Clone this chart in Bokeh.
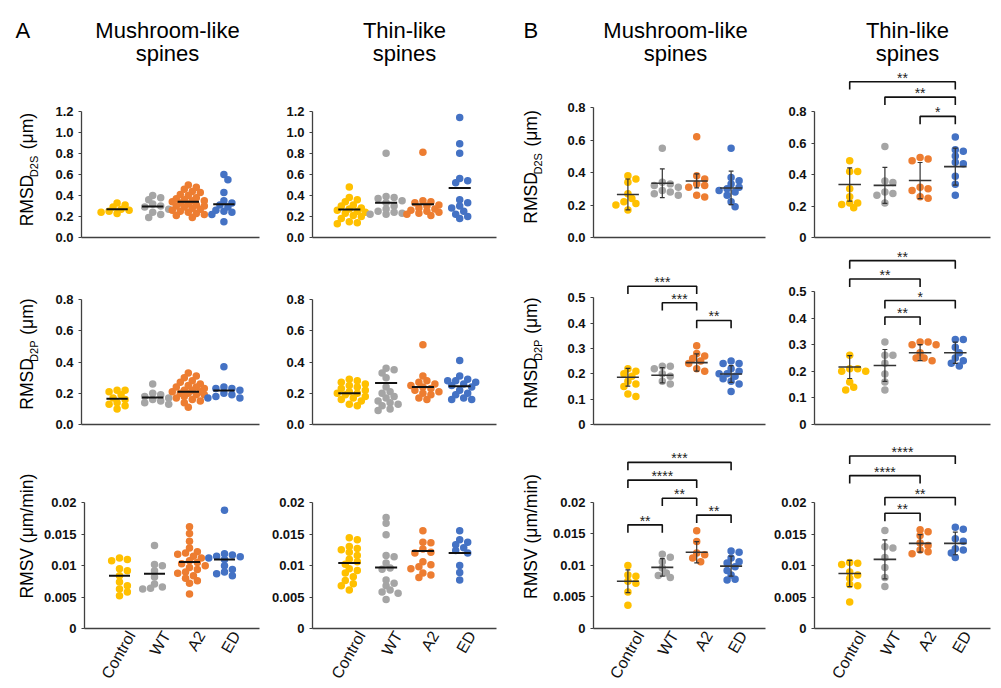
import math
from bokeh.plotting import figure
from bokeh.layouts import row, column
from bokeh.models import Range1d, FixedTicker, ColumnDataSource
from bokeh.embed import file_html
from bokeh.resources import INLINE
from bokeh.core.properties import value

# ---------------- data ----------------
GROUPS = ["Control", "WT", "A2", "ED"]
COLORS = ["#FFC000", "#A5A5A5", "#ED7D31", "#4472C4"]
COL_TITLES = [("Mushroom-like", "spines"), ("Thin-like", "spines"),
              ("Mushroom-like", "spines"), ("Thin-like", "spines")]
PANEL_LETTERS = ["A", "B"]

# Row 1: RMSD D2S (um)
a_mush_d2s = [
    [0.33, 0.31, 0.29, 0.27, 0.26, 0.25, 0.24, 0.23],
    [0.40, 0.38, 0.36, 0.32, 0.30, 0.29, 0.27, 0.24, 0.22, 0.19],
    [0.50, 0.48, 0.46, 0.44, 0.43, 0.41, 0.40, 0.38, 0.37, 0.36, 0.35, 0.35, 0.34, 0.33,
     0.32, 0.31, 0.30, 0.30, 0.29, 0.28, 0.27, 0.26, 0.25, 0.24, 0.23, 0.22, 0.21, 0.19],
    [0.60, 0.55, 0.43, 0.35, 0.33, 0.31, 0.29, 0.26, 0.25, 0.24, 0.22, 0.15],
]
a_mush_d2s_mean = [0.27, 0.295, 0.342, 0.318]

a_thin_d2s = [
    [0.48, 0.38, 0.36, 0.34, 0.31, 0.30, 0.28, 0.27, 0.26, 0.25, 0.24, 0.23, 0.21, 0.20, 0.18, 0.15, 0.14, 0.13],
    [0.80, 0.39, 0.38, 0.37, 0.35, 0.33, 0.30, 0.27, 0.25, 0.24, 0.23, 0.22, 0.22],
    [0.81, 0.35, 0.34, 0.33, 0.31, 0.30, 0.28, 0.27, 0.26, 0.25, 0.24, 0.23, 0.22, 0.21],
    [1.14, 0.89, 0.80, 0.56, 0.54, 0.52, 0.36, 0.33, 0.30, 0.28, 0.25, 0.22, 0.20, 0.18],
]
a_thin_d2s_mean = [0.265, 0.33, 0.315, 0.47]

b_mush_d2s = [
    [0.38, 0.36, 0.34, 0.27, 0.24, 0.22, 0.21, 0.20, 0.17],
    [0.55, 0.34, 0.33, 0.32, 0.31, 0.29, 0.28, 0.27, 0.26],
    [0.62, 0.38, 0.36, 0.33, 0.32, 0.31, 0.26, 0.25],
    [0.55, 0.37, 0.35, 0.33, 0.31, 0.30, 0.29, 0.28, 0.26, 0.22, 0.19],
]
b_mush_d2s_mean = [0.265, 0.334, 0.348, 0.305]
b_mush_d2s_sd = [0.095, 0.088, 0.043, 0.103]

b_thin_d2s = [
    [0.49, 0.42, 0.42, 0.31, 0.26, 0.22, 0.22, 0.21, 0.19],
    [0.58, 0.36, 0.35, 0.29, 0.28, 0.27, 0.22],
    [0.51, 0.50, 0.49, 0.32, 0.31, 0.30, 0.26, 0.25],
    [0.64, 0.56, 0.55, 0.52, 0.48, 0.47, 0.39, 0.34, 0.27],
]
b_thin_d2s_mean = [0.338, 0.332, 0.363, 0.452]
b_thin_d2s_sd = [0.106, 0.115, 0.115, 0.118]
b_thin_d2s_sig = [(2, 3, "*"), (1, 3, "**"), (0, 3, "**")]

# Row 2: RMSD D2P (um)
a_mush_d2p = [
    [0.22, 0.22, 0.21, 0.19, 0.17, 0.16, 0.14, 0.13, 0.12, 0.10],
    [0.26, 0.20, 0.19, 0.18, 0.17, 0.16, 0.15, 0.14, 0.13],
    [0.33, 0.31, 0.30, 0.28, 0.27, 0.26, 0.25, 0.24, 0.24, 0.23, 0.22, 0.22, 0.21, 0.21,
     0.20, 0.20, 0.19, 0.19, 0.18, 0.17, 0.16, 0.15, 0.14, 0.11],
    [0.37, 0.24, 0.23, 0.23, 0.22, 0.20, 0.19, 0.18, 0.17, 0.17],
]
a_mush_d2p_mean = [0.165, 0.173, 0.21, 0.218]

a_thin_d2p = [
    [0.29, 0.28, 0.27, 0.26, 0.25, 0.24, 0.23, 0.22, 0.21, 0.20, 0.20, 0.19, 0.18, 0.17, 0.16, 0.15, 0.13, 0.12],
    [0.36, 0.35, 0.33, 0.30, 0.24, 0.21, 0.20, 0.18, 0.17, 0.15, 0.14, 0.13, 0.12, 0.10, 0.09],
    [0.51, 0.31, 0.28, 0.27, 0.26, 0.25, 0.24, 0.23, 0.22, 0.21, 0.20, 0.19, 0.17, 0.16],
    [0.41, 0.31, 0.29, 0.28, 0.28, 0.27, 0.26, 0.25, 0.24, 0.22, 0.20, 0.19, 0.17, 0.16, 0.16],
]
a_thin_d2p_mean = [0.20, 0.265, 0.24, 0.245]

b_mush_d2p = [
    [0.22, 0.21, 0.20, 0.19, 0.17, 0.16, 0.15, 0.12, 0.11],
    [0.23, 0.23, 0.22, 0.20, 0.19, 0.17, 0.16],
    [0.31, 0.28, 0.27, 0.26, 0.25, 0.24, 0.22, 0.21],
    [0.25, 0.24, 0.24, 0.22, 0.21, 0.20, 0.20, 0.19, 0.18, 0.17, 0.16, 0.13],
]
b_mush_d2p_mean = [0.186, 0.194, 0.244, 0.199]
b_mush_d2p_sd = [0.035, 0.030, 0.034, 0.033]
b_mush_d2p_sig = [(2, 3, "**"), (1, 2, "***"), (0, 2, "***")]

b_thin_d2p = [
    [0.26, 0.21, 0.21, 0.20, 0.20, 0.16, 0.14, 0.13],
    [0.31, 0.26, 0.26, 0.23, 0.19, 0.16, 0.13],
    [0.31, 0.31, 0.30, 0.30, 0.27, 0.25, 0.25, 0.24],
    [0.32, 0.32, 0.29, 0.27, 0.25, 0.24, 0.23, 0.22],
]
b_thin_d2p_mean = [0.216, 0.222, 0.27, 0.27]
b_thin_d2p_sd = [0.043, 0.060, 0.030, 0.040]
b_thin_d2p_sig = [(1, 2, "**"), (1, 3, "*"), (0, 2, "**"), (0, 3, "**")]

# Row 3: RMSV (um/min)
a_mush_rmsv = [
    [0.0112, 0.0110, 0.0108, 0.0095, 0.0092, 0.0084, 0.0074, 0.0068, 0.0063, 0.0058, 0.0052],
    [0.0132, 0.0102, 0.0100, 0.0092, 0.0082, 0.0071, 0.0066, 0.0064, 0.0063],
    [0.0162, 0.0151, 0.0139, 0.0128, 0.0122, 0.0120, 0.0118, 0.0115, 0.0112, 0.0108, 0.0105,
     0.0103, 0.0100, 0.0097, 0.0094, 0.0090, 0.0088, 0.0084, 0.0080, 0.0076, 0.0072, 0.0055],
    [0.0188, 0.0119, 0.0117, 0.0115, 0.0114, 0.0112, 0.0110, 0.0100, 0.0094, 0.0090, 0.0087, 0.0084],
]
a_mush_rmsv_mean = [0.0084, 0.0087, 0.0106, 0.0110]

a_thin_rmsv = [
    [0.0144, 0.0141, 0.0130, 0.0127, 0.0125, 0.0121, 0.0116, 0.0110, 0.0106, 0.0102, 0.0095,
     0.0092, 0.0088, 0.0082, 0.0076, 0.0071, 0.0068, 0.0061],
    [0.0176, 0.0167, 0.0149, 0.0116, 0.0114, 0.0104, 0.0096, 0.0094, 0.0077, 0.0072, 0.0068,
     0.0061, 0.0058, 0.0056, 0.0046],
    [0.0155, 0.0137, 0.0136, 0.0126, 0.0121, 0.0120, 0.0106, 0.0101, 0.0098, 0.0095, 0.0088, 0.0085, 0.0081],
    [0.0155, 0.0141, 0.0137, 0.0133, 0.0128, 0.0124, 0.0120, 0.0100, 0.0089, 0.0077],
]
a_thin_rmsv_mean = [0.0104, 0.0097, 0.0123, 0.0120]

b_mush_rmsv = [
    [0.0100, 0.0085, 0.0083, 0.0075, 0.0072, 0.0058, 0.0037],
    [0.0118, 0.0113, 0.0106, 0.0096, 0.0088, 0.0084, 0.0081],
    [0.0155, 0.0138, 0.0120, 0.0117, 0.0112, 0.0106],
    [0.0123, 0.0121, 0.0112, 0.0106, 0.0104, 0.0098, 0.0092, 0.0085, 0.0078, 0.0077],
]
b_mush_rmsv_mean = [0.0075, 0.0097, 0.0121, 0.0099]
b_mush_rmsv_sd = [0.0018, 0.0014, 0.0017, 0.0016]
b_mush_rmsv_sig = [(0, 1, "**"), (2, 3, "**"), (1, 2, "**"), (0, 2, "****"), (0, 3, "***")]

b_thin_rmsv = [
    [0.0105, 0.0104, 0.0102, 0.0090, 0.0085, 0.0080, 0.0070, 0.0068, 0.0042],
    [0.0156, 0.0130, 0.0128, 0.0113, 0.0097, 0.0081, 0.0067],
    [0.0157, 0.0154, 0.0148, 0.0136, 0.0132, 0.0125, 0.0122, 0.0119],
    [0.0161, 0.0158, 0.0143, 0.0139, 0.0127, 0.0125, 0.0120, 0.0113],
]
b_thin_rmsv_mean = [0.00875, 0.0110, 0.01354, 0.01354]
b_thin_rmsv_sd = [0.0021, 0.0031, 0.0014, 0.0018]
b_thin_rmsv_sig = [(1, 2, "**"), (1, 3, "**"), (0, 2, "****"), (0, 3, "****")]

# tick labels
ticks_a_d2s = ["0.0", "0.2", "0.4", "0.6", "0.8", "1.0", "1.2"]
ticks_a_d2p = ["0.0", "0.2", "0.4", "0.6", "0.8"]
ticks_b_mush_d2s = ["0.0", "0.2", "0.4", "0.6", "0.8"]
ticks_b_thin_d2s = ["0", "0.2", "0.4", "0.6", "0.8"]
ticks_b_d2p = ["0", "0.1", "0.2", "0.3", "0.4", "0.5"]
ticks_rmsv = ["0", "0.005", "0.01", "0.015", "0.02"]

# y axis titles (text, subscript, unit); unit is None when the title is one piece
YLABELS = [("RMSD", "D2S", "(\u03bcm)"), ("RMSD", "D2P", "(\u03bcm)"), ("RMSV (\u03bcm/min)", "", None)]

# ---------------- layout (pixels on page) ----------------
HEADER_H = 69
COLS = [(40, 264, 81, 259), (264, 510, 312, 496), (548, 767, 593, 765), (767, 1000, 814, 990)]
LABEL_STRIPS = {0: (0, 40, 33), 2: (510, 548, 537)}   # x0, x1, baseline x of the y title
ROWS = [(69, 245), (245, 438), (438, 688)]
ZERO_PX = [[238, 238, 237, 239], [427, 427, 427, 424], [630, 628, 631, 630]]
TOP_PX = [[111.5, 111, 107, 112], [300, 300, 298, 291], [503, 502, 503, 503]]
TITLE_CX = [167, 404, 675, 907]
TITLE_BASE = [38, 61]
LETTER_X = [15, 523]
XLABEL_SHIFT_PX = 12     # rotated category labels end a little right of the category
BASELINE_FIX = 0.35      # em shift so that text sits on its alphabetic baseline
YTITLE_GAP = 3           # extra px between the pieces of a y title
BRACKET_Y = {
    "b_thin_d2s": [0.772, 0.895, 0.993],
    "b_mush_d2p": [0.41, 0.48, 0.545],
    "b_thin_d2p": [0.404, 0.466, 0.547, 0.616],
    "b_mush_rmsv": [0.01645, 0.0180, 0.02068, 0.02355, 0.02637],
    "b_thin_rmsv": [0.01834, 0.02084, 0.02433, 0.02745],
}

FONT = "Liberation Sans"
AXIS_COLOR = "#404040"

PANELS = [
    [dict(key="a_mush_d2s", data=a_mush_d2s, mean=a_mush_d2s_mean, sd=None, ticks=ticks_a_d2s, sig=None),
     dict(key="a_thin_d2s", data=a_thin_d2s, mean=a_thin_d2s_mean, sd=None, ticks=ticks_a_d2s, sig=None),
     dict(key="b_mush_d2s", data=b_mush_d2s, mean=b_mush_d2s_mean, sd=b_mush_d2s_sd, ticks=ticks_b_mush_d2s, sig=None),
     dict(key="b_thin_d2s", data=b_thin_d2s, mean=b_thin_d2s_mean, sd=b_thin_d2s_sd, ticks=ticks_b_thin_d2s, sig=b_thin_d2s_sig)],
    [dict(key="a_mush_d2p", data=a_mush_d2p, mean=a_mush_d2p_mean, sd=None, ticks=ticks_a_d2p, sig=None),
     dict(key="a_thin_d2p", data=a_thin_d2p, mean=a_thin_d2p_mean, sd=None, ticks=ticks_a_d2p, sig=None),
     dict(key="b_mush_d2p", data=b_mush_d2p, mean=b_mush_d2p_mean, sd=b_mush_d2p_sd, ticks=ticks_b_d2p, sig=b_mush_d2p_sig),
     dict(key="b_thin_d2p", data=b_thin_d2p, mean=b_thin_d2p_mean, sd=b_thin_d2p_sd, ticks=ticks_b_d2p, sig=b_thin_d2p_sig)],
    [dict(key="a_mush_rmsv", data=a_mush_rmsv, mean=a_mush_rmsv_mean, sd=None, ticks=ticks_rmsv, sig=None),
     dict(key="a_thin_rmsv", data=a_thin_rmsv, mean=a_thin_rmsv_mean, sd=None, ticks=ticks_rmsv, sig=None),
     dict(key="b_mush_rmsv", data=b_mush_rmsv, mean=b_mush_rmsv_mean, sd=b_mush_rmsv_sd, ticks=ticks_rmsv, sig=b_mush_rmsv_sig),
     dict(key="b_thin_rmsv", data=b_thin_rmsv, mean=b_thin_rmsv_mean, sd=b_thin_rmsv_sd, ticks=ticks_rmsv, sig=b_thin_rmsv_sig)],
]

CHAR_W = {'R': .722, 'M': .833, 'S': .667, 'D': .722, 'V': .667, 'P': .667, '2': .556, ' ': .278,
          '(': .333, ')': .333, '\u03bc': .576, 'm': .833, '/': .278, 'i': .222, 'n': .556}


def text_w(s, size):
    return sum(CHAR_W.get(ch, 0.556) for ch in s) * size


def swarm_offsets(vals, ppy, ppx, diam=7.0, step=4.0):
    n = len(vals)
    order = sorted(range(n), key=lambda k: -vals[k])
    cands = [0.0]
    for k in range(1, 5):
        cands += [k * step, -k * step]
    placed = []
    offs = [0.0] * n
    for k in order:
        yp = vals[k] * ppy
        best, bestd = 0.0, -1.0
        for c in cands:
            d = min([math.hypot(c - px, yp - py) for px, py in placed] or [1e9])
            if d >= diam * 0.8:
                best = c
                break
            if d > bestd:
                bestd, best = d, c
        placed.append((best, yp))
        offs[k] = best / ppx
    return offs


def blank_fig(x0, x1, y0, y1):
    """A figure without axes whose frame covers the whole canvas; x in page px, y up from bottom."""
    p = figure(width=x1 - x0, height=y1 - y0, x_range=Range1d(x0, x1), y_range=Range1d(0, y1 - y0),
               x_axis_type=None, y_axis_type=None, output_backend="svg", toolbar_location=None,
               min_border_left=0, min_border_right=0, min_border_top=0, min_border_bottom=0)
    p.outline_line_color = None
    p.grid.visible = False
    return p


def add_text(p, x, y, text, size, angle=0.0, align="left"):
    # shift along the text's "up" direction to put the alphabetic baseline at (x, y)
    s = BASELINE_FIX * size
    x2 = x - s * math.sin(angle)
    y2 = y + s * math.cos(angle)
    p.text(x=[x2], y=[y2], text=[text], angle=angle, text_align=align, text_baseline="alphabetic",
           text_font=value(FONT), text_font_size=value(f"{size}px"), text_color="#000000")


def build_header():
    p = blank_fig(0, 1000, 0, HEADER_H)
    for c in range(4):
        for k in range(2):
            add_text(p, TITLE_CX[c], HEADER_H - TITLE_BASE[k], COL_TITLES[c][k], 22, align="center")
    for i, lx in enumerate(LETTER_X):
        add_text(p, lx, HEADER_H - TITLE_BASE[0], PANEL_LETTERS[i], 22)
    return p


def build_label_strip(r, c):
    x0, x1, base = LABEL_STRIPS[c]
    fy0, fy1 = ROWS[r]
    p = blank_fig(x0, x1, fy0, fy1)
    main, sub, unit = YLABELS[r]
    size, ssize = 17.5, 11
    center = fy1 - (ZERO_PX[r][c] + TOP_PX[r][c]) / 2.0
    ang = math.pi / 2
    if unit is None:
        add_text(p, base, center, main, size, angle=ang, align="center")
        return p
    w1 = text_w(main, size)
    w2 = text_w(sub, ssize) if sub else 0
    gap = text_w(" ", size) + YTITLE_GAP
    w3 = gap + text_w(unit, size)
    total = w1 + w2 + w3
    start = center - total / 2.0
    add_text(p, base, start, main, size, angle=ang)
    if sub:
        add_text(p, base + 4, start + w1, sub, ssize, angle=ang)
    add_text(p, base, start + w1 + w2 + gap, unit, size, angle=ang)
    return p


def build(r, c):
    fx0, fx1, lx0, lx1 = COLS[c]
    fy0, fy1 = ROWS[r]
    zero = ZERO_PX[r][c]
    ttop = TOP_PX[r][c]
    pan = PANELS[r][c]
    ticks = [float(t) for t in pan["ticks"]]
    vmax = ticks[-1]
    ppy = (zero - ttop) / vmax
    y_end = (zero - fy0) / ppy
    ppx = (lx1 - lx0) / 5.0

    p = figure(width=fx1 - fx0, height=fy1 - fy0,
               x_range=Range1d(0, 5), y_range=Range1d(0, y_end),
               output_backend="svg", toolbar_location=None,
               min_border_left=lx0 - fx0, min_border_right=fx1 - lx1,
               min_border_top=0, min_border_bottom=fy1 - zero)
    p.outline_line_color = None
    p.xgrid.visible = False
    p.ygrid.visible = False

    ya = p.yaxis[0]
    ya.ticker = FixedTicker(ticks=ticks)
    ya.major_label_overrides = {t: s for t, s in zip(ticks, pan["ticks"])}
    ya.bounds = (0, vmax)
    ya.axis_line_color = AXIS_COLOR
    ya.axis_line_width = 1.3
    ya.major_tick_line_color = AXIS_COLOR
    ya.major_tick_out = 3
    ya.major_tick_in = 0
    ya.minor_tick_line_color = None
    ya.major_label_text_font = FONT
    ya.major_label_text_font_size = "13px"
    ya.major_label_text_font_style = "bold"
    ya.major_label_text_color = "#111111"
    ya.major_label_standoff = 5

    xa = p.xaxis[0]
    xa.axis_line_color = AXIS_COLOR
    xa.axis_line_width = 1.3
    xa.major_tick_out = 0
    xa.major_tick_in = 0
    xa.minor_tick_line_color = None
    xa.major_tick_line_color = None
    if r == 2:
        shift = XLABEL_SHIFT_PX / ppx
        tpos = [i + 1 + shift for i in range(4)]
        xa.ticker = FixedTicker(ticks=tpos)
        xa.major_label_overrides = {t: g for t, g in zip(tpos, GROUPS)}
        xa.major_label_orientation = math.pi / 3
        xa.major_label_text_font = FONT
        xa.major_label_text_font_size = "16px"
        xa.major_label_text_color = "#111111"
        xa.major_label_standoff = 4
    else:
        xa.ticker = FixedTicker(ticks=[])
        xa.major_label_standoff = 0

    # points
    for g in range(4):
        vals = pan["data"][g]
        offs = swarm_offsets(vals, ppy, ppx)
        src = ColumnDataSource(dict(x=[g + 1 + o for o in offs], y=vals))
        p.scatter("x", "y", source=src, size=7.5, fill_color=COLORS[g], line_color=None)

    # mean lines / error bars
    xs = [g + 1 for g in range(4)]
    m = pan["mean"]
    if pan["sd"] is None:
        p.segment(x0=[x - 0.3 for x in xs], x1=[x + 0.3 for x in xs], y0=m, y1=m,
                  line_color="#111111", line_width=2)
    else:
        sd = pan["sd"]
        lo = [a - b for a, b in zip(m, sd)]
        hi = [a + b for a, b in zip(m, sd)]
        p.segment(x0=xs, x1=xs, y0=lo, y1=hi, line_color="#333333", line_width=1.2)
        cw = 0.07
        p.segment(x0=[x - cw for x in xs], x1=[x + cw for x in xs], y0=hi, y1=hi,
                  line_color="#333333", line_width=1.2)
        p.segment(x0=[x - cw for x in xs], x1=[x + cw for x in xs], y0=lo, y1=lo,
                  line_color="#333333", line_width=1.2)
        p.segment(x0=[x - 0.32 for x in xs], x1=[x + 0.32 for x in xs], y0=m, y1=m,
                  line_color="#333333", line_width=1.6)

    # significance brackets
    if pan["sig"]:
        leg = 8.0 / ppy
        tx, ty, tt = [], [], []
        for (i, j, s), yb in zip(pan["sig"], BRACKET_Y[pan["key"]]):
            p.line([i + 1, i + 1, j + 1, j + 1], [yb - leg, yb, yb, yb - leg],
                   line_color="#111111", line_width=1.6)
            tx.append((i + j) / 2 + 1)
            ty.append(yb)
            tt.append(s)
        p.text(x=tx, y=ty, text=tt, text_align="center", text_baseline="alphabetic",
               y_offset=-4, text_font=value(FONT), text_font_size="14px", text_color="#222222")
    return p


rows = [build_header()]
for r in range(3):
    items = []
    for c in range(4):
        if c in LABEL_STRIPS:
            items.append(build_label_strip(r, c))
        items.append(build(r, c))
    rows.append(row(items))
layout = column(rows)

open("out.html", "w").write(file_html(layout, INLINE))
